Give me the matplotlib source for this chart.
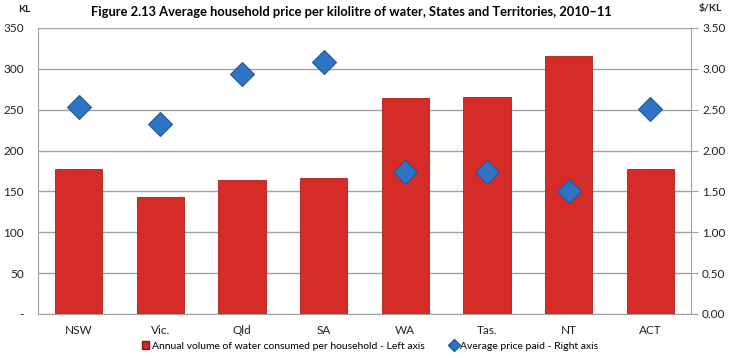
import matplotlib
matplotlib.use("Agg")
import matplotlib.pyplot as plt
from matplotlib.lines import Line2D
from matplotlib.patches import Patch

plt.rcParams['font.family'] = ['Lato', 'DejaVu Sans']

categories = ["NSW", "Vic.", "Qld", "SA", "WA", "Tas.", "NT", "ACT"]
volume_kl = [178, 143, 164, 167, 264, 265, 316, 178]
price_per_kl = [2.53, 2.33, 2.94, 3.08, 1.74, 1.74, 1.51, 2.51]
left_ticks = [0, 50, 100, 150, 200, 250, 300, 350]
left_labels = ["-", "50", "100", "150", "200", "250", "300", "350"]
right_ticks = [0, 0.5, 1.0, 1.5, 2.0, 2.5, 3.0, 3.5]

fig = plt.figure(figsize=(7.32, 3.58), dpi=100)
ax = fig.add_axes([38/732, 1-314/358, (691-38)/732, (314-28)/358])
ax2 = ax.twinx()

x = list(range(len(categories)))
ax.bar(x, volume_kl, width=0.58, color="#D62C28", edgecolor="#B01E1A", linewidth=0.6, zorder=3)
ax.set_ylim(0, 350)
ax.set_xlim(-0.5, len(categories) - 0.5)
ax.set_yticks(left_ticks)
ax.set_yticklabels(left_labels, fontsize=8.5, color="#222222")
ax.set_xticks(x)
ax.set_xticklabels(categories, fontsize=8.5, color="#222222")
ax.tick_params(axis='both', length=0, pad=8)
ax.tick_params(axis='y', pad=10)
ax.grid(axis='y', color="#A0A0A0", linewidth=1.0, zorder=0)
ax.set_axisbelow(True)
for s in ["top", "right"]:
    ax.spines[s].set_visible(False)
ax.spines["left"].set_color("#A0A0A0")
ax.spines["bottom"].set_color("#A0A0A0")

ax2.plot(x, price_per_kl, linestyle="none", marker="D", markersize=12,
         markerfacecolor="#2F74C4", markeredgecolor="#1E5A9E", markeredgewidth=0.8, zorder=5)
ax2.set_ylim(0, 3.5)
ax2.set_yticks(right_ticks)
ax2.set_yticklabels([f"{v:.2f}" for v in right_ticks], fontsize=8.5, color="#222222")
ax2.tick_params(axis='y', length=5, color="#A0A0A0", pad=3)
for s in ["top", "left", "bottom"]:
    ax2.spines[s].set_visible(False)
ax2.spines["right"].set_color("#A0A0A0")

fig.text(351/732, 1-12/358, "Figure 2.13 Average household price per kilolitre of water, States and Territories, 2010\u201311",
         ha="center", va="center", fontsize=9.3, fontweight="bold", color="#000000")
fig.text(24/732, 1-9/358, "KL", ha="center", va="center", fontsize=7.5, fontweight="bold", color="#222222")
fig.text(710/732, 1-8/358, "$/KL", ha="center", va="center", fontsize=7.5, fontweight="bold", color="#222222")

handles = [Patch(facecolor="#D22B27", edgecolor="#8A1512", label="Annual volume of water consumed per household - Left axis"),
           Line2D([], [], linestyle="none", marker="D", markersize=6, markerfacecolor="#2F74C4",
                  markeredgecolor="#1E5A9E", label="Average price paid - Right axis")]
fig.legend(handles=handles, loc="center", bbox_to_anchor=(370/732, 1-346/358), ncol=2, frameon=False,
           fontsize=7.5, handlelength=0.7, handleheight=0.7, handletextpad=0.2, columnspacing=2.5)

fig.savefig("out.png", dpi=100)
